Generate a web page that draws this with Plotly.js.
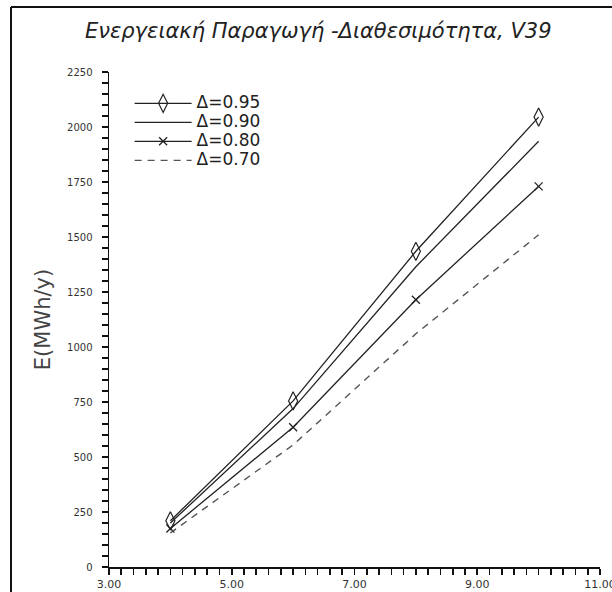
<!DOCTYPE html>
<html>
<head>
<meta charset="utf-8">
<script src="https://cdn.plot.ly/plotly-3.0.1.min.js"></script>
<style>html,body{margin:0;padding:0;background:#fff}#chart{width:612px;height:592px}</style>
</head>
<body>
<div id="chart"></div>
<script>
// Wind speed (x) and annual energy production E (MWh/y) per availability Δ
var windSpeed = [4, 6, 8, 10];
var seriesNames = ["Δ=0.95", "Δ=0.90", "Δ=0.80", "Δ=0.70"];
var e095 = [210, 755, 1435, 2045];
var e090 = [200, 720, 1365, 1935];
var e080 = [175, 635, 1215, 1730];
var e070 = [155, 555, 1060, 1510];
var xTickVals = [3, 5, 7, 9, 11];
var xTickText = ["3.00", "5.00", "7.00", "9.00", "11.00"];
var yTickVals = [0, 250, 500, 750, 1000, 1250, 1500, 1750, 2000, 2250];
var yTickText = ["0", "250", "500", "750", "1000", "1250", "1500", "1750", "2000", "2250"];
var xMinorPerMajor = 10;   // minor tick every 0.2
var yMinorPerMajor = 5;    // minor tick every 50

// dense tick positions: labelled at the major values, blank at the minor ones
function denseTicks(vals, texts, perMajor) {
  var tv = [], tt = [];
  for (var i = 0; i < vals.length; i++) {
    tv.push(vals[i]); tt.push(texts[i]);
    if (i < vals.length - 1) {
      var step = (vals[i + 1] - vals[i]) / perMajor;
      for (var k = 1; k < perMajor; k++) { tv.push(vals[i] + k * step); tt.push(''); }
    }
  }
  return {vals: tv, text: tt};
}
var xt = denseTicks(xTickVals, xTickText, xMinorPerMajor);
var yt = denseTicks(yTickVals, yTickText, yMinorPerMajor);

var ink = '#222';
function legName(s) { return '<span style="font-size:17px">' + s + '</span>'; }
var traces = [
  {x: windSpeed, y: e095, name: legName(seriesNames[0]), type: 'scatter', mode: 'lines+markers',
   line: {color: ink, width: 1.3},
   marker: {symbol: 'diamond-tall-open', size: 13, color: ink, line: {width: 1.2, color: ink}}},
  {x: windSpeed, y: e090, name: legName(seriesNames[1]), type: 'scatter', mode: 'lines',
   line: {color: ink, width: 1.3}},
  {x: windSpeed, y: e080, name: legName(seriesNames[2]), type: 'scatter', mode: 'lines+markers',
   line: {color: ink, width: 1.3},
   marker: {symbol: 'x-thin-open', size: 8, color: ink, line: {width: 1.3, color: ink}}},
  {x: windSpeed, y: e070, name: legName(seriesNames[3]), type: 'scatter', mode: 'lines',
   line: {color: '#555', width: 1.4, dash: '7px,6px'}}
];

var layout = {
  width: 612, height: 592,
  margin: {l: 109, r: 12, t: 72, b: 25},
  paper_bgcolor: '#fff', plot_bgcolor: '#fff',
  font: {family: 'DejaVu Sans, sans-serif', color: '#222'},
  title: {text: 'Ενεργειακή Παραγωγή -Διαθεσιμότητα, V39',
          font: {family: 'DejaVu Sans, sans-serif', size: 21, style: 'italic', color: '#222'},
          xref: 'container', x: 0.52, xanchor: 'center',
          yref: 'container', y: 0.949, yanchor: 'middle'},
  showlegend: true,
  legend: {x: 0.042, y: 0.966, xanchor: 'left', yanchor: 'top',
           bgcolor: 'rgba(0,0,0,0)', borderwidth: 0,
           font: {family: 'DejaVu Sans, sans-serif', size: 12, color: '#222'},
           itemwidth: 57, tracegroupgap: 0},
  xaxis: {range: [xTickVals[0], xTickVals[xTickVals.length - 1]],
          tickmode: 'array', tickvals: xt.vals, ticktext: xt.text, ticklabeloverflow: 'allow',
          showgrid: false, zeroline: false, showline: true, linecolor: '#111', linewidth: 1.5,
          ticks: 'outside', ticklen: 6, tickwidth: 1.6, tickcolor: '#111',
          tickfont: {family: 'DejaVu Sans, sans-serif', size: 11, color: '#333'},
          fixedrange: true},
  yaxis: {range: [yTickVals[0], yTickVals[yTickVals.length - 1]],
          tickmode: 'array', tickvals: yt.vals, ticktext: yt.text, ticklabeloverflow: 'allow',
          showgrid: false, zeroline: false, showline: true, linecolor: '#111', linewidth: 1.5,
          ticks: 'outside', ticklen: 6, tickwidth: 1.6, tickcolor: '#111',
          tickfont: {family: 'DejaVu Sans, sans-serif', size: 10, color: '#333'},
          ticklabelstandoff: 7,
          title: {text: 'E(MWh/y)', font: {family: 'DejaVu Sans, sans-serif', size: 21, color: '#444'}, standoff: 10},
          fixedrange: true},
  shapes: [
    {type: 'line', xref: 'paper', yref: 'paper', x0: -0.1996, x1: -0.1996, y0: 1.1313, y1: -0.2,
     line: {color: '#111', width: 2}},
    {type: 'line', xref: 'paper', yref: 'paper', x0: -0.1996, x1: 1.2, y0: 1.1313, y1: 1.1313,
     line: {color: '#111', width: 2}}
  ]
};

Plotly.newPlot('chart', traces, layout, {displayModeBar: false, staticPlot: true});
</script>
</body>
</html>
